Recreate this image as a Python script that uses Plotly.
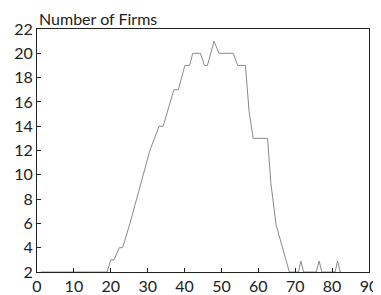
import plotly.graph_objects as go

# Number of firms over time
time = [1, 19, 20, 20.9, 22.3, 23.2, 25.2, 27.9, 30.6, 33.1, 34.2, 37.1, 38.3,
        40.1, 41.4, 42.2, 44.3, 45.4, 46.2, 48.0, 49.3, 53.2, 54.4, 56.5, 57.5,
        58.6, 62.5, 63.4, 64.8, 68.4, 70.9, 71.5, 72.3, 75.7, 76.5, 77.2,
        80.8, 81.5, 82.2, 82.5]
firms = [2, 2, 3, 3, 4, 4, 6, 9, 12, 14, 14, 17, 17,
         19, 19, 20, 20, 19, 19, 21, 20, 20, 19, 19, 15.2,
         13, 13, 9.3, 5.9, 2, 2, 2.9, 2, 2, 2.9, 2,
         2, 2.9, 2, 2]

x_ticks = list(range(0, 91, 10))
y_ticks = list(range(2, 23, 2))

fig = go.Figure()
fig.add_trace(go.Scatter(x=time, y=firms, mode="lines",
                         line=dict(color="#8a8a8a", width=1),
                         showlegend=False, hoverinfo="skip"))

font = dict(family="Lato, 'Open Sans', sans-serif", size=16, color="#222")

fig.update_layout(
    width=373, height=287,
    margin=dict(l=29, r=12, t=21, b=23),
    paper_bgcolor="white", plot_bgcolor="white",
    font=font,
    xaxis=dict(range=[0, 90], tickvals=x_ticks, ticks="inside", ticklen=4,
               tickcolor="#222", showline=True, linecolor="#222", linewidth=1,
               mirror=True, showgrid=False, zeroline=False, automargin=False),
    yaxis=dict(range=[2, 22], tickvals=y_ticks, ticks="inside", ticklen=4,
               tickcolor="#222", showline=True, linecolor="#222", linewidth=1,
               mirror=True, showgrid=False, zeroline=False, automargin=False),
    annotations=[dict(text="Number of Firms", x=0, y=1, xref="paper",
                      yref="paper", xanchor="left", yanchor="bottom",
                      yshift=-1, showarrow=False, font=font)],
)

fig.write_html("out.html")
